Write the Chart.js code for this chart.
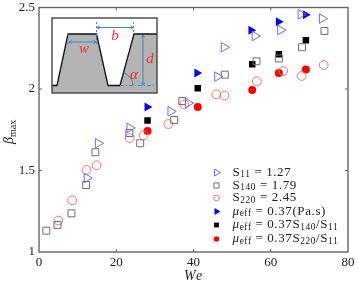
<!doctype html>
<html>

<head>
	<title>Beta max vs We</title>
	<script src="https://cdn.jsdelivr.net/npm/chart.js@4/dist/chart.umd.js"></script>
	<style>
	html, body { margin: 0; padding: 0; background: #fff; }
	canvas { display: block; }
	</style>
</head>

<body>
	<canvas id="canvas" width="359" height="285"></canvas>
	<script>
		// [We, beta_max]
		const s11 = [[12.4, 1.454], [15.3, 1.667], [23.5, 1.761], [34.1, 1.863], [38.6, 1.914], [46.2, 2.076], [47.9, 2.256], [55.9, 2.325], [62.5, 2.362], [67.8, 2.458], [73.3, 2.432]];
		const s140 = [[1.9, 1.131], [4.8, 1.166], [8.4, 1.237], [12.2, 1.411], [14.6, 1.612], [23.4, 1.730], [26.2, 1.667], [35.0, 1.810], [37.1, 1.926], [48.1, 2.088], [56.3, 2.170], [62.1, 2.187], [68.1, 2.256], [73.9, 2.356]];
		const s220 = [[5.0, 1.193], [8.6, 1.317], [12.3, 1.503], [14.9, 1.532], [23.5, 1.699], [27.1, 1.716], [33.5, 1.785], [37.6, 1.906], [45.9, 1.967], [48.0, 1.960], [56.4, 2.047], [63.2, 2.110], [68.0, 2.080], [73.7, 2.147]];
		const muEff = [[28.0, 1.890], [40.9, 2.098], [54.9, 2.360], [62.0, 2.413], [69.0, 2.456]];
		const muS140 = [[28.1, 1.806], [41.1, 2.004], [55.2, 2.152], [62.1, 2.213], [69.1, 2.299]];
		const muS220 = [[28.1, 1.742], [41.1, 1.890], [55.2, 1.994], [62.1, 2.098], [69.1, 2.119]];

		const xTicks = [0, 20, 40, 60, 80];
		const yTicks = [1, 1.5, 2, 2.5];

		// r = roman, i = italic, s = subscript
		const legendLabels = [
			[['S', 'r'], ['11', 's'], [' = 1.27', 'r']],
			[['S', 'r'], ['140', 's'], [' = 1.79', 'r']],
			[['S', 'r'], ['220', 's'], [' = 2.45', 'r']],
			[['μ', 'i'], ['eff', 's'], [' = 0.37(Pa.s)', 'r']],
			[['μ', 'i'], ['eff', 's'], [' = 0.37S', 'r'], ['140', 's'], ['/S', 'r'], ['11', 's']],
			[['μ', 'i'], ['eff', 's'], [' = 0.37S', 'r'], ['220', 's'], ['/S', 'r'], ['11', 's']]
		];

		const serif = '"Liberation Serif", serif';
		const toPoints = (rows) => rows.map((r) => ({x: r[0], y: r[1]}));

		const mkSet = (rows, style, radius, color, fill, rotation) => ({
			data: toPoints(rows),
			showLine: false,
			pointStyle: style,
			pointRadius: radius,
			pointHoverRadius: radius,
			pointRotation: rotation || 0,
			pointBorderColor: color,
			pointBackgroundColor: fill ? color : 'transparent',
			pointBorderWidth: fill ? 0 : 1
		});

		const datasets = [
			mkSet(s11, 'triangle', 5.5, '#6a6af5', false, 90),
			mkSet(s140, 'rect', 4.9, '#6e6e6e', false),
			mkSet(s220, 'circle', 4.4, '#fa6e6e', false),
			mkSet(muEff, 'triangle', 5.2, '#0000ff', true, 90),
			mkSet(muS140, 'rect', 4.6, '#000000', true),
			mkSet(muS220, 'circle', 4, '#ff0000', true)
		];

		function drawRuns(ctx, runs, x, y, size, spacing) {
			ctx.letterSpacing = (spacing || 0) + 'px';
			runs.forEach((run) => {
				const sub = run[1] === 's';
				ctx.font = (run[1] === 'i' ? 'italic ' : '') + (sub ? size * 0.72 : size) + 'px ' + serif;
				ctx.fillText(run[0], x, sub ? y + 2.5 : y);
				x += ctx.measureText(run[0]).width;
			});
			ctx.letterSpacing = '0px';
		}

		function arrow(ctx, x1, y1, x2, y2) {
			const a = Math.atan2(y2 - y1, x2 - x1);
			ctx.beginPath();
			ctx.moveTo(x1, y1);
			ctx.lineTo(x2, y2);
			[[x1, y1, a + Math.PI], [x2, y2, a]].forEach((h) => {
				ctx.moveTo(h[0] - 3 * Math.cos(h[2] - 0.6), h[1] - 3 * Math.sin(h[2] - 0.6));
				ctx.lineTo(h[0], h[1]);
				ctx.lineTo(h[0] - 3 * Math.cos(h[2] + 0.6), h[1] - 3 * Math.sin(h[2] + 0.6));
			});
			ctx.stroke();
		}

		// keep the plot box where it is, tick labels may hang over
		const noPadding = (scale) => {
			scale.paddingTop = 0;
			scale.paddingBottom = 0;
			scale.paddingLeft = 0;
			scale.paddingRight = 0;
		};

		const framePlugin = {
			id: 'frame',
			beforeDatasetsDraw(chart) {
				const ctx = chart.ctx, a = chart.chartArea;
				ctx.save();
				ctx.strokeStyle = '#666';
				ctx.lineWidth = 1;
				xTicks.slice(1, -1).forEach((v) => {
					const px = chart.scales.x.getPixelForValue(v);
					ctx.beginPath();
					ctx.moveTo(px, a.bottom); ctx.lineTo(px, a.bottom - 3);
					ctx.moveTo(px, a.top); ctx.lineTo(px, a.top + 3);
					ctx.stroke();
				});
				yTicks.slice(1, -1).forEach((v) => {
					const py = chart.scales.y.getPixelForValue(v);
					ctx.beginPath();
					ctx.moveTo(a.left, py); ctx.lineTo(a.left + 3, py);
					ctx.moveTo(a.right, py); ctx.lineTo(a.right - 3, py);
					ctx.stroke();
				});
				ctx.lineWidth = 1.4;
				ctx.strokeRect(a.left, a.top, a.right - a.left, a.bottom - a.top);
				ctx.restore();
			},
			afterDatasetsDraw(chart) {
				const ctx = chart.ctx;
				ctx.save();
				drawInset(ctx);
				drawLegend(ctx);

				// axis titles
				ctx.fillStyle = '#222';
				ctx.textBaseline = 'alphabetic';
				ctx.font = 'italic 14px ' + serif;
				ctx.letterSpacing = '1.5px';
				ctx.fillText('We', 184, 280);
				ctx.letterSpacing = '0px';
				ctx.translate(13, 144);
				ctx.rotate(-Math.PI / 2);
				drawRuns(ctx, [['β', 'i'], ['max', 's']], 0, 0, 14);
				ctx.restore();
			}
		};

		function drawInset(ctx) {
			const blue = '#3d85c6', red = '#f03030';
			ctx.fillStyle = '#fff';
			ctx.fillRect(52, 18, 105, 75);

			// grey grooves
			ctx.beginPath();
			ctx.moveTo(52, 85.5);
			ctx.lineTo(57, 85.5);
			ctx.lineTo(68, 34);
			ctx.lineTo(96.5, 34);
			ctx.lineTo(108, 85.5);
			ctx.lineTo(120, 85.5);
			ctx.lineTo(134, 34);
			ctx.lineTo(157, 34);
			ctx.lineTo(157, 93);
			ctx.lineTo(52, 93);
			ctx.closePath();
			ctx.fillStyle = '#b4b4b4';
			ctx.fill();

			ctx.beginPath();
			ctx.moveTo(52, 85.5);
			ctx.lineTo(57, 85.5);
			ctx.lineTo(68, 34);
			ctx.lineTo(96.5, 34);
			ctx.lineTo(108, 85.5);
			ctx.lineTo(120, 85.5);
			ctx.lineTo(134, 34);
			ctx.lineTo(157, 34);
			ctx.strokeStyle = '#111';
			ctx.lineWidth = 1.3;
			ctx.stroke();

			ctx.strokeStyle = '#444';
			ctx.lineWidth = 1.4;
			ctx.strokeRect(52, 18, 105, 75);

			// dimensions
			ctx.strokeStyle = blue;
			ctx.lineWidth = 1;
			arrow(ctx, 69, 42, 96, 42);
			arrow(ctx, 97, 27.5, 133, 27.5);
			arrow(ctx, 143, 35, 143, 85);
			ctx.setLineDash([2, 2]);
			ctx.beginPath();
			ctx.moveTo(96.5, 22); ctx.lineTo(96.5, 34);
			ctx.moveTo(133.5, 22); ctx.lineTo(133.5, 34);
			ctx.moveTo(68, 34); ctx.lineTo(68, 46);
			ctx.moveTo(96.5, 34); ctx.lineTo(96.5, 46);
			ctx.stroke();
			ctx.setLineDash([4, 2, 1, 2]);
			ctx.beginPath();
			ctx.moveTo(120, 85.5); ctx.lineTo(156, 85.5);
			ctx.stroke();
			ctx.setLineDash([]);
			ctx.beginPath();
			ctx.arc(120, 85.5, 13, -1.3, 0);
			ctx.stroke();

			ctx.fillStyle = red;
			ctx.textAlign = 'center';
			ctx.textBaseline = 'middle';
			ctx.font = 'italic 15px ' + serif;
			ctx.fillText('b', 115, 36);
			ctx.fillText('w', 84, 49);
			ctx.fillText('d', 150, 59);
			ctx.fillText('α', 134, 75);
			ctx.textAlign = 'left';
		}

		function drawLegend(ctx) {
			const rowY = [172.5, 185.5, 198, 211.5, 225, 239];
			const keys = [
				{pointStyle: 'triangle', rotation: 90, radius: 4, borderWidth: 1},
				{pointStyle: 'rect', rotation: 0, radius: 3.6, borderWidth: 1},
				{pointStyle: 'circle', rotation: 0, radius: 2.8, borderWidth: 1},
				{pointStyle: 'triangle', rotation: 90, radius: 4, borderWidth: 0},
				{pointStyle: 'rect', rotation: 0, radius: 3.4, borderWidth: 0},
				{pointStyle: 'circle', rotation: 0, radius: 2.8, borderWidth: 0}
			];
			rowY.forEach((y, i) => {
				const set = datasets[i];
				ctx.strokeStyle = set.pointBorderColor;
				ctx.fillStyle = set.pointBackgroundColor;
				ctx.lineWidth = 1;
				ctx.beginPath();
				Chart.helpers.drawPoint(ctx, keys[i], 216.5, y);
				ctx.fillStyle = '#222';
				ctx.textBaseline = 'middle';
				drawRuns(ctx, legendLabels[i], 232.5, y, 13, 0.6);
			});
		}

		window.onload = function() {
			const ctx = document.getElementById('canvas').getContext('2d');
			window.myScatter = new Chart(ctx, {
				type: 'scatter',
				data: {datasets: datasets},
				plugins: [framePlugin],
				options: {
					responsive: false,
					animation: false,
					layout: {padding: {top: 7.5, right: 11, left: 0, bottom: 0}},
					plugins: {legend: {display: false}, tooltip: {enabled: false}},
					scales: {
						x: {
							type: 'linear',
							min: 0,
							max: 80,
							afterFit(scale) { scale.height = 33; noPadding(scale); },
							afterBuildTicks(scale) { scale.ticks = xTicks.map((v) => ({value: v})); },
							grid: {display: false, drawTicks: false},
							border: {display: false},
							ticks: {color: '#222', padding: 3, maxRotation: 0, font: {family: serif, size: 13}, callback: (v) => String(v)}
						},
						y: {
							type: 'linear',
							min: 1,
							max: 2.5,
							afterFit(scale) { scale.width = 39; noPadding(scale); },
							afterBuildTicks(scale) { scale.ticks = yTicks.map((v) => ({value: v})); },
							grid: {display: false, drawTicks: false},
							border: {display: false},
							ticks: {color: '#222', padding: 4, font: {family: serif, size: 13}, callback: (v) => String(v)}
						}
					}
				}
			});
		};
	</script>
</body>

</html>
